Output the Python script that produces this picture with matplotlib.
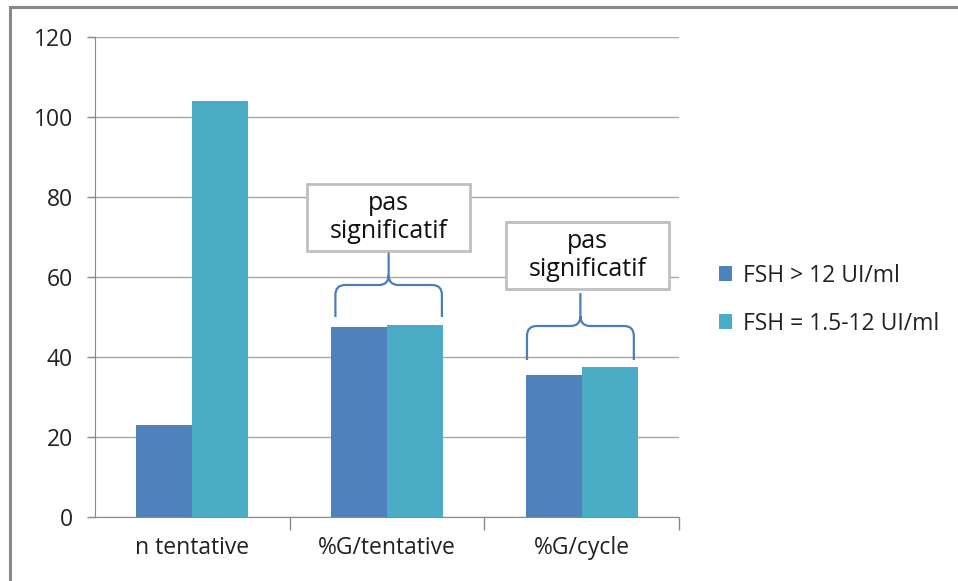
import matplotlib
matplotlib.use("Agg")
import matplotlib.pyplot as plt
from matplotlib.path import Path
from matplotlib.patches import PathPatch, Rectangle
import numpy as np

categories = ["n tentative", "%G/tentative", "%G/cycle"]
series_names = ["FSH > 12 UI/ml", "FSH = 1.5-12 UI/ml"]
fsh_high = [23, 47.5, 35.5]
fsh_normal = [104, 48, 37.5]
yticks = [0, 20, 40, 60, 80, 100, 120]
note_text = "pas\nsignificatif"

colors = ["#4f81bd", "#4bacc6"]
plt.rcParams['font.family'] = ['Open Sans', 'DejaVu Sans']

fig = plt.figure(figsize=(9.58, 5.81), dpi=100)
ax = fig.add_axes([95/958, 64/581, (679-95)/958, (517-37)/581])

x = np.arange(len(categories))
w = 0.287
ax.bar(x - w/2, fsh_high, w, color=colors[0], label=series_names[0], zorder=3)
ax.bar(x + w/2, fsh_normal, w, color=colors[1], label=series_names[1], zorder=3)

ax.set_xlim(-0.5, 2.5)
ax.set_ylim(0, 120)
ax.set_yticks(yticks)
ax.set_yticklabels([str(v) for v in yticks], fontsize=16.5, color="#222222")
ax.set_xticks(x)
ax.set_xticklabels(categories, fontsize=16.5, color="#222222")
ax.tick_params(axis='x', length=0, pad=14)
ax.set_xticks([0.5, 1.5, 2.5], minor=True)
ax.tick_params(axis='x', which='minor', length=9, color="#888888", width=1)
ax.tick_params(axis='y', length=6, color="#888888", width=1, pad=10)
ax.grid(axis='y', color="#a6a6a6", linewidth=1, zorder=0)
for s in ['top', 'right']:
    ax.spines[s].set_visible(False)
ax.spines['left'].set_color("#888888")
ax.spines['bottom'].set_color("#888888")

def brace(ax, x0, x1, yb, yh, yp, rx=0.05, ry=2.5):
    xm = (x0 + x1) / 2
    verts = [(x0, yb), (x0, yh - ry), (x0, yh), (x0 + rx, yh),
             (xm - rx, yh), (xm, yh), (xm, yh + ry), (xm, yp),
             (xm, yh + ry), (xm, yh), (xm + rx, yh),
             (x1 - rx, yh), (x1, yh), (x1, yh - ry), (x1, yb)]
    codes = [Path.MOVETO, Path.LINETO, Path.CURVE3, Path.CURVE3,
             Path.LINETO, Path.CURVE3, Path.CURVE3, Path.LINETO,
             Path.MOVETO, Path.CURVE3, Path.CURVE3,
             Path.LINETO, Path.CURVE3, Path.CURVE3, Path.LINETO]
    ax.add_patch(PathPatch(Path(verts, codes), fill=False, edgecolor="#4a7ebb",
                           linewidth=1.6, zorder=5, clip_on=False))

def note(ax, xl, xr, yt, yb_):
    ax.add_patch(Rectangle((xl, yb_), xr - xl, yt - yb_, facecolor="white",
                           edgecolor="#bfbfbf", linewidth=2, zorder=6, clip_on=False))
    ax.text((xl + xr) / 2, (yt + yb_) / 2, note_text, ha='center', va='center',
            fontsize=18, color="#111111", zorder=7, linespacing=1.12)

brace(ax, 0.735, 1.282, 50, 58, 66.5)
note(ax, 0.589, 1.426, 83.25, 66.5)
brace(ax, 1.719, 2.268, 39.25, 47.75, 56)
note(ax, 1.611, 2.448, 73.75, 57)

leg = fig.legend(loc='upper left', bbox_to_anchor=(698/958, 1 - 243/581), frameon=False,
                 fontsize=16.5, handlelength=0.6, handleheight=0.6, handletextpad=0.45,
                 labelspacing=1.05)
for t in leg.get_texts():
    t.set_color("#222222")

fig.patches.append(Rectangle((10/958, -0.05), 1.0, 1 - 7/581 + 0.05,
                             transform=fig.transFigure, fill=False,
                             edgecolor="#888888", linewidth=2.2))

fig.savefig("out.png", dpi=100)
